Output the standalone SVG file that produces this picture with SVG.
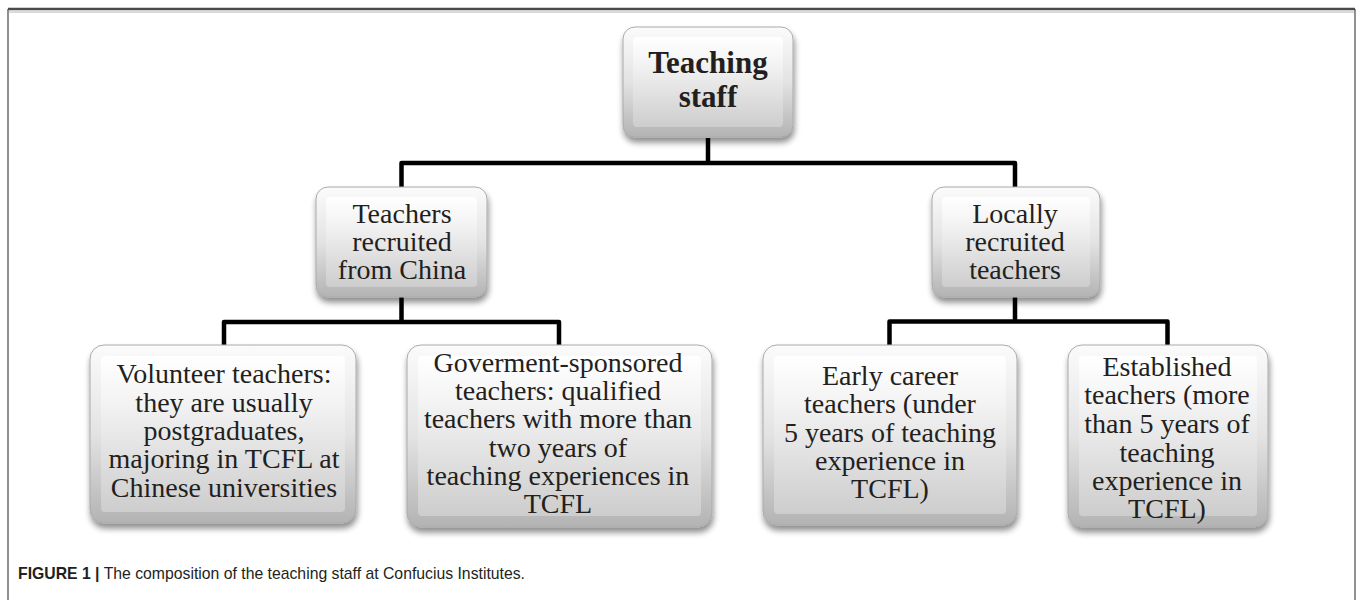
<svg xmlns="http://www.w3.org/2000/svg" width="1357" height="600" viewBox="0 0 1357 600">
<defs>
<linearGradient id="outer" x1="0" y1="0" x2="0" y2="1">
<stop offset="0" stop-color="#fbfbfb"/>
<stop offset="0.5" stop-color="#e3e3e3"/>
<stop offset="1" stop-color="#b3b3b3"/>
</linearGradient>
<linearGradient id="inner" x1="0" y1="0" x2="0" y2="1">
<stop offset="0" stop-color="#ffffff"/>
<stop offset="0.3" stop-color="#f3f3f3"/>
<stop offset="1" stop-color="#cdcdcd"/>
</linearGradient>
<filter id="sh" x="-10%" y="-10%" width="120%" height="130%">
<feGaussianBlur in="SourceAlpha" stdDeviation="3"/>
<feOffset dx="1" dy="5" result="b"/>
<feComponentTransfer><feFuncA type="linear" slope="0.45"/></feComponentTransfer>
<feMerge><feMergeNode/><feMergeNode in="SourceGraphic"/></feMerge>
</filter>
</defs>
<style>
.box{fill:url(#outer);stroke:#aaaaaa;stroke-width:1;filter:url(#sh)}
.bev{fill:url(#inner);stroke:none}
.t{font-family:"Liberation Serif","Times New Roman",serif;font-size:28px;fill:#231f20;text-anchor:middle}
.tb{font-family:"Liberation Serif","Times New Roman",serif;font-size:31px;font-weight:bold;fill:#231f20;text-anchor:middle}
.c{fill:none;stroke:#000;stroke-width:4.5;stroke-linejoin:round}
.cap{font-family:"Liberation Sans",Arial,sans-serif;font-size:17px;fill:#231f20}
</style>
<rect width="1357" height="600" fill="#fff"/>
<g id="frame">
<line x1="8" y1="9" x2="1355" y2="9" stroke="#4a4a4a" stroke-width="2.5"/>
<line x1="9" y1="12" x2="1354" y2="12" stroke="#b5b5b5" stroke-width="1"/>
<line x1="8" y1="9" x2="8" y2="600" stroke="#555" stroke-width="1.3"/>
<line x1="1355" y1="9" x2="1355" y2="600" stroke="#555" stroke-width="1.3"/>
</g>
<g id="connectors">
<path class="c" d="M708 138 V163 M401.5 187 V163 H1015 V187"/>
<path class="c" d="M401.5 296 V322 M224 345 V322 H559 V345"/>
<path class="c" d="M1015 296 V321.5 M889.5 345 V321.5 H1167.5 V345"/>
</g>
<g id="root">
<rect class="box" x="623" y="27" width="170" height="110" rx="12"/>
<rect class="bev" x="633" y="37" width="150" height="90" rx="4"/>
<text class="tb" x="708" y="73">Teaching</text>
<text class="tb" x="708" y="107">staff</text>
</g>
<g id="china">
<rect class="box" x="316" y="187" width="171" height="110" rx="12"/>
<rect class="bev" x="326" y="197" width="151" height="90" rx="4"/>
<text class="t" x="402" y="223">Teachers</text>
<text class="t" x="402" y="251">recruited</text>
<text class="t" x="402" y="279">from China</text>
</g>
<g id="local">
<rect class="box" x="932" y="187" width="168" height="110" rx="12"/>
<rect class="bev" x="942" y="197" width="148" height="90" rx="4"/>
<text class="t" x="1015" y="223">Locally</text>
<text class="t" x="1015" y="251">recruited</text>
<text class="t" x="1015" y="279">teachers</text>
</g>
<g id="volunteer">
<rect class="box" x="90" y="345" width="266" height="178" rx="14"/>
<rect class="bev" x="101" y="356" width="244" height="156" rx="4"/>
<text class="t" x="224" y="383">Volunteer teachers:</text>
<text class="t" x="224" y="412">they are usually</text>
<text class="t" x="224" y="440">postgraduates,</text>
<text class="t" x="224" y="468">majoring in TCFL at</text>
<text class="t" x="224" y="497">Chinese universities</text>
</g>
<g id="government">
<rect class="box" x="407" y="345" width="305" height="182" rx="14"/>
<rect class="bev" x="418" y="356" width="283" height="160" rx="4"/>
<text class="t" x="558" y="372">Goverment-sponsored</text>
<text class="t" x="558" y="400">teachers: qualified</text>
<text class="t" x="558" y="428">teachers with more than</text>
<text class="t" x="558" y="457">two years of</text>
<text class="t" x="558" y="485">teaching experiences in</text>
<text class="t" x="558" y="513">TCFL</text>
</g>
<g id="early">
<rect class="box" x="763" y="345" width="254" height="180" rx="14"/>
<rect class="bev" x="774" y="356" width="232" height="158" rx="4"/>
<text class="t" x="890" y="385">Early career</text>
<text class="t" x="890" y="413">teachers (under</text>
<text class="t" x="890" y="442">5 years of teaching</text>
<text class="t" x="890" y="470">experience in</text>
<text class="t" x="890" y="498">TCFL)</text>
</g>
<g id="established">
<rect class="box" x="1068" y="345" width="200" height="182" rx="14"/>
<rect class="bev" x="1079" y="356" width="178" height="160" rx="4"/>
<text class="t" x="1167" y="376">Established</text>
<text class="t" x="1167" y="404">teachers (more</text>
<text class="t" x="1167" y="433">than 5 years of</text>
<text class="t" x="1167" y="462">teaching</text>
<text class="t" x="1167" y="490">experience in</text>
<text class="t" x="1167" y="518">TCFL)</text>
</g>
<g id="caption">
<text class="cap" x="18" y="579" textLength="507" lengthAdjust="spacingAndGlyphs"><tspan font-weight="bold">FIGURE 1</tspan> <tspan font-weight="bold">|</tspan> The composition of the teaching staff at Confucius Institutes.</text>
</g>
</svg>
